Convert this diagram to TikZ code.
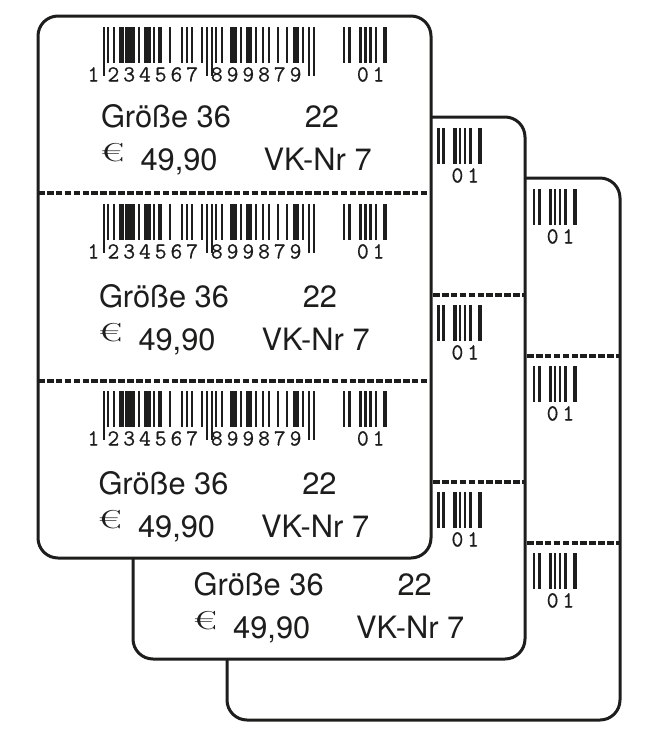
\documentclass[tikz,border=0pt]{standalone}
\usepackage{fontspec}
\setmainfont{TeX Gyre Heros}
\newfontfamily\bcfont[LetterSpace=17,FakeBold=0.5]{Latin Modern Mono}
\newfontfamily\eurofont{Latin Modern Roman}
\definecolor{ink}{HTML}{1D1D1B}
\tikzset{
  x=1pt,y=-1pt,
  card/.style={draw=ink,line width=3pt,fill=white,rounded corners=20pt},
  perf/.style={draw=ink,line width=3.2pt,dash pattern=on 6.6pt off 2.3pt},
  bar/.style={fill=ink,draw=none},
  label/.style={anchor=base west,inner sep=0pt,text=ink,font=\fontsize{30.8}{30.8}\selectfont},
  digits/.style={anchor=base west,inner sep=0pt,text=ink,font=\bcfont\fontsize{23}{23}\selectfont},
  euro/.style={anchor=base west,inner sep=0pt,text=ink,xscale=1.6,font=\eurofont\fontsize{26}{26}\selectfont},
}
% bars of the two-digit add-on: x-offset,width, relative to the first bar (pixels)
\newcommand{\addon}[3]{%
  \begin{scope}[shift={(#1,#2)}]
    \foreach \bx/\bw in {0/2.5,5/3,16/3.2,21.5/2.2,26.2/2.5,31.7/2.8,40.5/3.6}
      \fill[bar] (\bx,0) rectangle ++(\bw,36);
    \node[digits] (#3d) at (13.9,54.5) {01};
  \end{scope}}
% main barcode, reference point = top-left of first bar
\newcommand{\mainbars}[3]{%
  \begin{scope}[shift={(#1,#2)}]
    \foreach \bx/\bw in {4.7/2.2,10/2.2,16.3/5.2,22/10,35.7/2.2,41.7/6.9,50.7/2.2,55.5/3.5,66.3/2.2,78.3/2.2,83/2.2,88.7/2.2,98.3/2.2,112.3/2.2,118.3/2.2,127.3/6.9,137/2.2,143/6.9,152.7/2.2,159/2.2,165/2.2,174/2.2,183.3/2.2,190/6.9,199/2.2}
      \fill[bar] (\bx,0) rectangle ++(\bw,36);
    \foreach \bx/\bw in {0/2.2,103.3/2.2,108/2.2,205.7/2.2,210/2.2}
      \fill[bar] (\bx,0) rectangle ++(\bw,49);
    \node[digits] (#3a) at (-15.2,54.5) {1};
    \node[digits] (#3b) at (4.8,54.5) {234567};
    \node[digits] (#3c) at (108.2,54.5) {899879};
  \end{scope}}
% text block: reference point = baseline start of the size label
\newcommand{\labels}[3]{%
  \begin{scope}[shift={(#1,#2)}]
    \node[label] (#3s) at (0,0) {Größe 36};
    \node[label] (#3n) at (203.8,0) {22};
    \node[euro]  (#3e) at (-1,34.5) {€};
    \node[label] (#3p) at (39.5,43) {49,90};
    \node[label] (#3v) at (162.5,43) {VK-Nr 7};
  \end{scope}}
\begin{document}
\begin{tikzpicture}
  \useasboundingbox (0,0) rectangle (654,732);
  % back card
  \draw[card] (227,178) rectangle (620,720);
  \coordinate (bl1) at (527,356); \coordinate (br1) at (620,356);
  \coordinate (bl2) at (527,543); \coordinate (br2) at (620,543);
  \draw[perf] (bl1) -- (br1);
  \draw[perf] (bl2) -- (br2);
  \addon{532.6}{189}{ba}
  \addon{532.6}{366}{bb}
  \addon{532.6}{553}{bc}
  % middle card
  \draw[card] (133,117) rectangle (525,659);
  \coordinate (ml1) at (433,295); \coordinate (mr1) at (525,295);
  \coordinate (ml2) at (433,482); \coordinate (mr2) at (525,482);
  \draw[perf] (ml1) -- (mr1);
  \draw[perf] (ml2) -- (mr2);
  \addon{437.4}{128}{ma}
  \addon{437.4}{305}{mb}
  \addon{437.4}{492}{mc}
  \labels{193.5}{595}{ml}
  % front card
  \draw[card] (38,16) rectangle (431,558);
  \coordinate (fl1) at (38,193); \coordinate (fr1) at (431,193);
  \coordinate (fl2) at (38,381); \coordinate (fr2) at (431,381);
  \draw[perf] (fl1) -- (fr1);
  \draw[perf] (fl2) -- (fr2);
  \mainbars{102.5}{27}{fa}
  \addon{342.8}{27}{fa}
  \labels{100.8}{127}{fx}
  \mainbars{102.5}{204}{fb}
  \addon{342.8}{204}{fb}
  \labels{98.8}{307}{fy}
  \mainbars{102.5}{391}{fc}
  \addon{342.8}{391}{fc}
  \labels{98.3}{494}{fz}
\end{tikzpicture}
\end{document}
